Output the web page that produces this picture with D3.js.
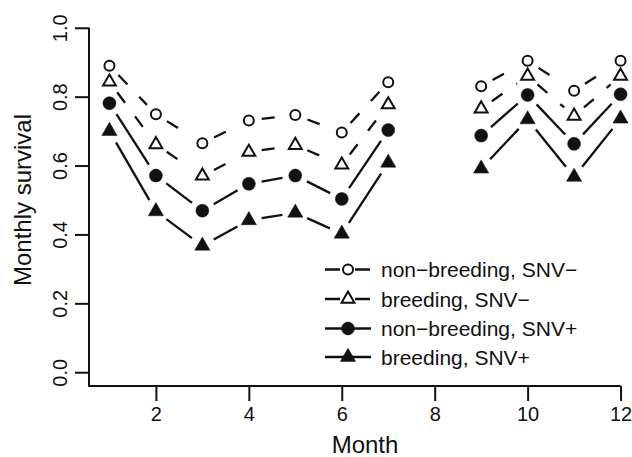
<!DOCTYPE html>
<html>
<head>
<meta charset="utf-8">
<script src="https://cdn.jsdelivr.net/npm/d3@7"></script>
<style>
  body { margin: 0; background: #fff; }
  text { font-family: "Liberation Sans", Arial, Helvetica, sans-serif; fill: #111; }
</style>
</head>
<body>
<div id="chart"></div>
<script>
// Data (month 8 has no estimate)
var months = [1, 2, 3, 4, 5, 6, 7, 8, 9, 10, 11, 12];
var nonBreedingNeg = [0.890, 0.749, 0.665, 0.731, 0.747, 0.696, 0.842, null, 0.830, 0.904, 0.817, 0.904];
var breedingNeg    = [0.843, 0.661, 0.570, 0.639, 0.659, 0.602, 0.777, null, 0.765, 0.860, 0.744, 0.860];
var nonBreedingPos = [0.781, 0.571, 0.469, 0.547, 0.571, 0.503, 0.703, null, 0.687, 0.805, 0.663, 0.807];
var breedingPos    = [0.700, 0.467, 0.367, 0.441, 0.463, 0.402, 0.608, null, 0.591, 0.734, 0.567, 0.736];
var seriesNames = ["non\u2212breeding, SNV\u2212", "breeding, SNV\u2212", "non\u2212breeding, SNV+", "breeding, SNV+"];
var xTicks = [2, 4, 6, 8, 10, 12];
var yTicks = [0, 0.2, 0.4, 0.6, 0.8, 1.0];

var svgWidth = 632;
var svgHeight = 457;
var ink = "#111";

var svg = d3.select("#chart")
  .append("svg")
  .attr("width", svgWidth)
  .attr("height", svgHeight);

// plot region (R style 4% padding around the data range)
var x = d3.scaleLinear().domain([0.56, 12.44]).range([89, 641]);
var y = d3.scaleLinear().domain([-0.04, 1.04]).range([386, 14]);

// series styling: marker type, filled?, dashed?
var series = [
  { values: nonBreedingNeg, shape: "circle", filled: false, dashed: true },
  { values: breedingNeg, shape: "triangle", filled: false, dashed: true },
  { values: nonBreedingPos, shape: "circle", filled: true, dashed: false },
  { values: breedingPos, shape: "triangle", filled: true, dashed: false }
];

// Axes
var xAxis = d3.axisBottom(x).tickValues(xTicks).tickSize(15).tickSizeOuter(0).tickFormat(d3.format("d"));
var gx = svg.append("g").attr("transform", "translate(0,386)").call(xAxis);
gx.select(".domain").remove();
gx.selectAll(".tick line").attr("stroke", ink).attr("stroke-width", 2);
gx.selectAll(".tick text").attr("y", 21).attr("dy", "0.71em").style("font-size", "20px").style("fill", ink);

var yAxis = d3.axisLeft(y).tickValues(yTicks).tickSize(14).tickSizeOuter(0).tickFormat(d3.format(".1f"));
var gy = svg.append("g").attr("transform", "translate(89,0)").call(yAxis);
gy.select(".domain").remove();
gy.selectAll(".tick line").attr("stroke", ink).attr("stroke-width", 2);
gy.selectAll(".tick text")
  .attr("x", null).attr("dy", null)
  .attr("transform", "translate(-22,0) rotate(-90)")
  .attr("text-anchor", "middle")
  .style("font-size", "20px").style("fill", ink);

// L-shaped frame
svg.append("path")
  .attr("d", "M" + x.range()[0] + "," + y(1) + "V" + y.range()[0] + "H" + x(12))
  .attr("fill", "none").attr("stroke", ink).attr("stroke-width", 2);

// axis titles
svg.append("text")
  .attr("x", x(6.5)).attr("y", 453)
  .attr("text-anchor", "middle")
  .style("font-size", "24px")
  .text("Month");

svg.append("text")
  .attr("transform", "translate(31," + y(0.5) + ") rotate(-90)")
  .attr("text-anchor", "middle")
  .style("font-size", "24px")
  .text("Monthly survival");

// lines with gaps around points (type = "b")
var gap = 13;
series.forEach(function(s) {
  var pts = months.map(function(m, i) { return { m: m, v: s.values[i] }; });
  for (var i = 0; i < pts.length - 1; i++) {
    var a = pts[i], b = pts[i + 1];
    if (a.v == null || b.v == null) continue;
    var x1 = x(a.m), y1 = y(a.v), x2 = x(b.m), y2 = y(b.v);
    var len = Math.hypot(x2 - x1, y2 - y1);
    if (len <= 2 * gap) continue;
    var ux = (x2 - x1) / len, uy = (y2 - y1) / len;
    svg.append("line")
      .attr("x1", x1 + ux * gap).attr("y1", y1 + uy * gap)
      .attr("x2", x2 - ux * gap).attr("y2", y2 - uy * gap)
      .attr("stroke", ink)
      .attr("stroke-width", 2.3)
      .attr("stroke-dasharray", s.dashed ? "13,17" : null);
  }
});

function drawMarker(g, s, cx, cy) {
  if (s.shape === "circle") {
    g.append("circle")
      .attr("cx", cx).attr("cy", cy)
      .attr("r", s.filled ? 6.5 : 5)
      .attr("fill", s.filled ? ink : "#fff")
      .attr("stroke", ink)
      .attr("stroke-width", s.filled ? 0.5 : 2);
  } else {
    g.append("path")
      .attr("d", d3.symbol(d3.symbolTriangle, s.filled ? 100 : 72)())
      .attr("transform", "translate(" + cx + "," + cy + ")")
      .attr("fill", s.filled ? ink : "none")
      .attr("stroke", ink)
      .attr("stroke-width", s.filled ? 0.5 : 2);
  }
}

// points
series.forEach(function(s) {
  var g = svg.append("g");
  months.forEach(function(m, i) {
    if (s.values[i] == null) return;
    drawMarker(g, s, x(m), y(s.values[i]));
  });
});

// legend
var legendRows = [269.5, 299, 328.5, 357];
series.forEach(function(s, i) {
  var ly = legendRows[i];
  var g = svg.append("g");
  g.append("line")
    .attr("x1", 325).attr("x2", 371)
    .attr("y1", ly).attr("y2", ly)
    .attr("stroke", ink).attr("stroke-width", 2.3)
    .attr("stroke-dasharray", s.dashed ? "15,15" : null);
  drawMarker(g, s, 348, ly);
  g.append("text")
    .attr("x", 381).attr("y", ly + 7.5)
    .style("font-size", "21px")
    .text(seriesNames[i]);
});
</script>
</body>
</html>
